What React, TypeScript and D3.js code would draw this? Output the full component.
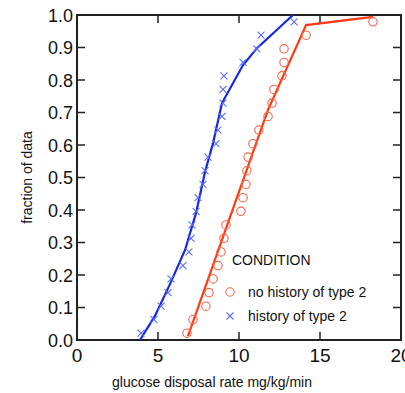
import { useEffect, useRef } from "react";
import * as d3 from "d3";

// fraction of data (plotting positions, 24 subjects per group)
const fractions = [
  0.021, 0.063, 0.104, 0.146, 0.188, 0.229, 0.271, 0.313, 0.354, 0.396, 0.438, 0.479,
  0.521, 0.563, 0.604, 0.646, 0.688, 0.729, 0.771, 0.813, 0.854, 0.896, 0.938, 0.979,
];

// no history of type 2 (circles)
const noHistX = [
  6.79, 7.16, 7.96, 8.15, 8.4, 8.7, 8.89, 9.07, 9.2, 10.12, 10.25, 10.43,
  10.49, 10.56, 10.86, 11.23, 11.79, 12.04, 12.16, 12.65, 12.78, 12.78, 14.14, 18.27,
];
// history of type 2 (crosses)
const histX = [
  3.95, 4.75, 5.19, 5.62, 5.8, 6.54, 6.91, 7.04, 7.1, 7.35, 7.47, 7.78,
  7.9, 8.09, 8.58, 8.7, 8.95, 9.01, 9.01, 9.07, 10.25, 11.1, 11.36, 13.4,
];

// fitted curves
const noHistFitX = [6.85, 9.38, 11.79, 14.14, 18.27];
const noHistFitY = [0.012, 0.369, 0.708, 0.969, 0.994];
const histFitX = [3.89, 4.81, 5.74, 6.67, 7.35, 7.9, 8.4, 8.95, 10.25, 11.11, 13.33];
const histFitY = [0, 0.074, 0.172, 0.277, 0.391, 0.517, 0.606, 0.729, 0.846, 0.898, 1.0];

const xTicks = [0, 5, 10, 15, 20];
const yTicks = [0, 0.1, 0.2, 0.3, 0.4, 0.5, 0.6, 0.7, 0.8, 0.9, 1.0];

export default function App() {
  const svgRef = useRef<SVGSVGElement>(null);

  useEffect(() => {
    if (!svgRef.current) return;
    const width = 405;
    const height = 393;
    const margin = { top: 15, right: 4, bottom: 53, left: 77 };

    const svg = d3.select(svgRef.current);
    svg.selectAll("*").remove();
    svg.attr("width", width).attr("height", height);

    const x = d3.scaleLinear().domain([0, 20]).range([margin.left, width - margin.right]);
    const y = d3.scaleLinear().domain([0, 1]).range([height - margin.bottom, margin.top]);
    const font = "Liberation Sans, Arial, sans-serif";
    const axisColor = "#222";

    // frame
    svg
      .append("rect")
      .attr("x", x(0))
      .attr("y", y(1))
      .attr("width", x(20) - x(0))
      .attr("height", y(0) - y(1))
      .attr("fill", "none")
      .attr("stroke", axisColor)
      .attr("stroke-width", 2);

    const tickLen = 8;
    const inner = xTicks.slice(1, -1);
    const innerY = yTicks.slice(1, -1);
    const ticks = svg.append("g").attr("stroke", axisColor).attr("stroke-width", 1.5);
    inner.forEach((t) => {
      ticks.append("line").attr("x1", x(t)).attr("x2", x(t)).attr("y1", y(0)).attr("y2", y(0) - tickLen);
      ticks.append("line").attr("x1", x(t)).attr("x2", x(t)).attr("y1", y(1)).attr("y2", y(1) + tickLen);
    });
    innerY.forEach((t) => {
      ticks.append("line").attr("x1", x(0)).attr("x2", x(0) + tickLen).attr("y1", y(t)).attr("y2", y(t));
      ticks.append("line").attr("x1", x(20)).attr("x2", x(20) - tickLen).attr("y1", y(t)).attr("y2", y(t));
    });

    // tick labels
    svg
      .append("g")
      .selectAll("text")
      .data(xTicks)
      .join("text")
      .attr("x", (d) => x(d))
      .attr("y", y(0) + 22)
      .attr("text-anchor", "middle")
      .attr("font-family", font)
      .attr("font-size", 19)
      .attr("fill", "#111")
      .text((d) => d);

    svg
      .append("g")
      .selectAll("text")
      .data(yTicks)
      .join("text")
      .attr("x", x(0) - 4)
      .attr("y", (d) => y(d) + 6.5)
      .attr("text-anchor", "end")
      .attr("font-family", font)
      .attr("font-size", 18)
      .attr("fill", "#111")
      .text((d) => d.toFixed(1));

    // axis titles
    svg
      .append("text")
      .attr("x", 212)
      .attr("y", 387)
      .attr("text-anchor", "middle")
      .attr("font-family", font)
      .attr("font-size", 14)
      .attr("fill", "#111")
      .text("glucose disposal rate mg/kg/min");

    svg
      .append("text")
      .attr("transform", `translate(32,${(y(0) + y(1)) / 2}) rotate(-90)`)
      .attr("text-anchor", "middle")
      .attr("font-family", font)
      .attr("font-size", 14)
      .attr("fill", "#111")
      .text("fraction of data");

    const red = "#ff3a14";
    const redMark = "#f2684c";
    const blue = "#1428e6";
    const blueMark = "#5b6ef0";

    const line = d3
      .line<[number, number]>()
      .x((d) => x(d[0]))
      .y((d) => y(d[1]));

    svg
      .append("path")
      .attr("d", line(noHistFitX.map((v, i) => [v, noHistFitY[i]]))!)
      .attr("fill", "none")
      .attr("stroke", red)
      .attr("stroke-width", 2.2);

    svg
      .append("path")
      .attr("d", line(histFitX.map((v, i) => [v, histFitY[i]]))!)
      .attr("fill", "none")
      .attr("stroke", blue)
      .attr("stroke-width", 2.2);

    // circles
    svg
      .append("g")
      .selectAll("circle")
      .data(noHistX)
      .join("circle")
      .attr("cx", (d) => x(d))
      .attr("cy", (_, i) => y(fractions[i]))
      .attr("r", 4.2)
      .attr("fill", "none")
      .attr("stroke", redMark)
      .attr("stroke-width", 1.1);

    // crosses
    const s = 3.5;
    const cross = (cx: number, cy: number) =>
      `M${cx - s},${cy - s}L${cx + s},${cy + s}M${cx - s},${cy + s}L${cx + s},${cy - s}`;
    svg
      .append("g")
      .selectAll("path")
      .data(histX)
      .join("path")
      .attr("d", (d, i) => cross(x(d), y(fractions[i])))
      .attr("stroke", blueMark)
      .attr("stroke-width", 1.1)
      .attr("fill", "none");

    // legend
    const lg = svg.append("g").attr("font-family", font).attr("font-size", 14).attr("fill", "#111");
    lg.append("text").attr("x", 232).attr("y", 265).text("CONDITION");
    lg.append("circle")
      .attr("cx", 230)
      .attr("cy", 292)
      .attr("r", 4.2)
      .attr("fill", "none")
      .attr("stroke", redMark)
      .attr("stroke-width", 1.1);
    lg.append("text").attr("x", 248).attr("y", 297).text("no history of type 2");
    lg.append("path")
      .attr("d", cross(230, 316))
      .attr("stroke", blueMark)
      .attr("stroke-width", 1.1)
      .attr("fill", "none");
    lg.append("text").attr("x", 248).attr("y", 321).text("history of type 2");
  }, []);

  return (
    <div style={{ position: "absolute", left: 0, top: 0 }}>
      <svg ref={svgRef} style={{ display: "block" }} />
    </div>
  );
}
